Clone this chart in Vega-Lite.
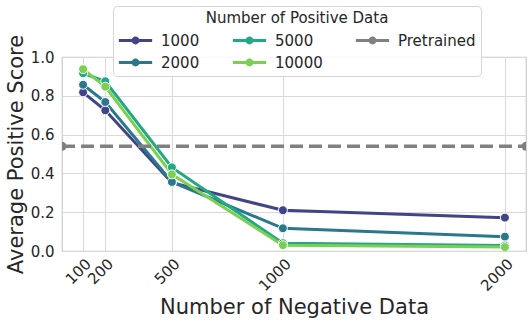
{
  "$schema": "https://vega.github.io/schema/vega-lite/v6.json",
  "width": 464,
  "height": 194,
  "autosize": {"type": "none"},
  "padding": {"left": 62, "top": 57, "right": 6, "bottom": 75},
  "config": {
    "font": "DejaVu Sans",
    "view": {"stroke": "#cccccc", "strokeWidth": 1.25},
    "axis": {
      "grid": true, "gridColor": "#d9d9d9", "gridWidth": 1,
      "domain": false, "ticks": false,
      "labelFontSize": 15, "labelColor": "#262626",
      "titleFontSize": 21, "titleFontWeight": "normal", "titleColor": "#262626"
    }
  },
  "datasets": {
    "series": [
      {"neg": 100, "score": 0.818, "series": "1000"},
      {"neg": 200, "score": 0.725, "series": "1000"},
      {"neg": 500, "score": 0.352, "series": "1000"},
      {"neg": 1000, "score": 0.210, "series": "1000"},
      {"neg": 2000, "score": 0.172, "series": "1000"},
      {"neg": 100, "score": 0.857, "series": "2000"},
      {"neg": 200, "score": 0.768, "series": "2000"},
      {"neg": 500, "score": 0.356, "series": "2000"},
      {"neg": 1000, "score": 0.117, "series": "2000"},
      {"neg": 2000, "score": 0.074, "series": "2000"},
      {"neg": 100, "score": 0.916, "series": "5000"},
      {"neg": 200, "score": 0.875, "series": "5000"},
      {"neg": 500, "score": 0.431, "series": "5000"},
      {"neg": 1000, "score": 0.040, "series": "5000"},
      {"neg": 2000, "score": 0.028, "series": "5000"},
      {"neg": 100, "score": 0.937, "series": "10000"},
      {"neg": 200, "score": 0.847, "series": "10000"},
      {"neg": 500, "score": 0.395, "series": "10000"},
      {"neg": 1000, "score": 0.030, "series": "10000"},
      {"neg": 2000, "score": 0.020, "series": "10000"}
    ],
    "pre": [
      {"neg": 5, "score": 0.540, "series": "Pretrained"},
      {"neg": 2095, "score": 0.540, "series": "Pretrained"}
    ]
  },
  "encoding": {
    "x": {
      "field": "neg", "type": "quantitative",
      "scale": {"domain": [5, 2095], "nice": false, "zero": false},
      "axis": {
        "title": "Number of Negative Data",
        "values": [100, 200, 500, 1000, 2000], "format": "d",
        "labelOverlap": false,
        "labelAngle": -45, "labelAlign": "right", "labelBaseline": "top",
        "labelPadding": 5, "titlePadding": 3
      }
    },
    "y": {
      "field": "score", "type": "quantitative",
      "scale": {"domain": [0, 1], "nice": false},
      "axis": {
        "title": "Average Positive Score",
        "values": [0, 0.2, 0.4, 0.6, 0.8, 1.0],
        "format": ".1f", "labelPadding": 8, "titlePadding": 4
      }
    }
  },
  "layer": [
    {
      "data": {"name": "series"},
      "mark": {"type": "line", "strokeWidth": 3, "clip": true},
      "encoding": {
        "color": {
          "field": "series", "type": "nominal",
          "scale": {
            "domain": ["1000", "2000", "5000", "10000", "Pretrained"],
            "range": ["#414487", "#2a788e", "#22a884", "#7ad151", "#808080"]
          },
          "legend": {
            "title": "Number of Positive Data",
            "titleLimit": 400, "labelLimit": 300,
            "orient": "none", "legendX": 51, "legendY": -51,
            "columns": 3,
            "symbolType": "M-3.7,0 L3.7,0 M0.55,0 A0.55,0.55 0 1,1 -0.55,0 A0.55,0.55 0 1,1 0.55,0 Z",
            "symbolSize": 81, "symbolStrokeWidth": 3,
            "symbolOffset": 10, "labelOffset": 18,
            "labelFontSize": 15, "titleFontSize": 15, "titleFontWeight": "normal",
            "titleAnchor": "middle", "titlePadding": 7,
            "columnPadding": 26, "rowPadding": 5,
            "padding": 5, "fillColor": "rgba(255,255,255,0.85)", "strokeColor": "#d6d6d6",
            "cornerRadius": 4, "labelColor": "#262626", "titleColor": "#262626",
            "symbolOpacity": 1,
            "encode": {
              "symbols": {
                "update": {
                  "fill": {"scale": "color", "field": "value"},
                  "stroke": {"scale": "color", "field": "value"}
                }
              }
            }
          }
        }
      }
    },
    {
      "data": {"name": "series"},
      "mark": {"type": "point", "filled": true, "size": 80, "stroke": "white", "strokeWidth": 1, "opacity": 1, "clip": true},
      "encoding": {"color": {"field": "series", "type": "nominal"}}
    },
    {
      "data": {"name": "pre"},
      "mark": {"type": "line", "strokeWidth": 3.5, "strokeDash": [13, 6], "clip": true},
      "encoding": {"color": {"field": "series", "type": "nominal"}}
    },
    {
      "data": {"name": "pre"},
      "mark": {"type": "point", "filled": true, "size": 80, "opacity": 1, "clip": true},
      "encoding": {"color": {"field": "series", "type": "nominal"}}
    }
  ]
}
